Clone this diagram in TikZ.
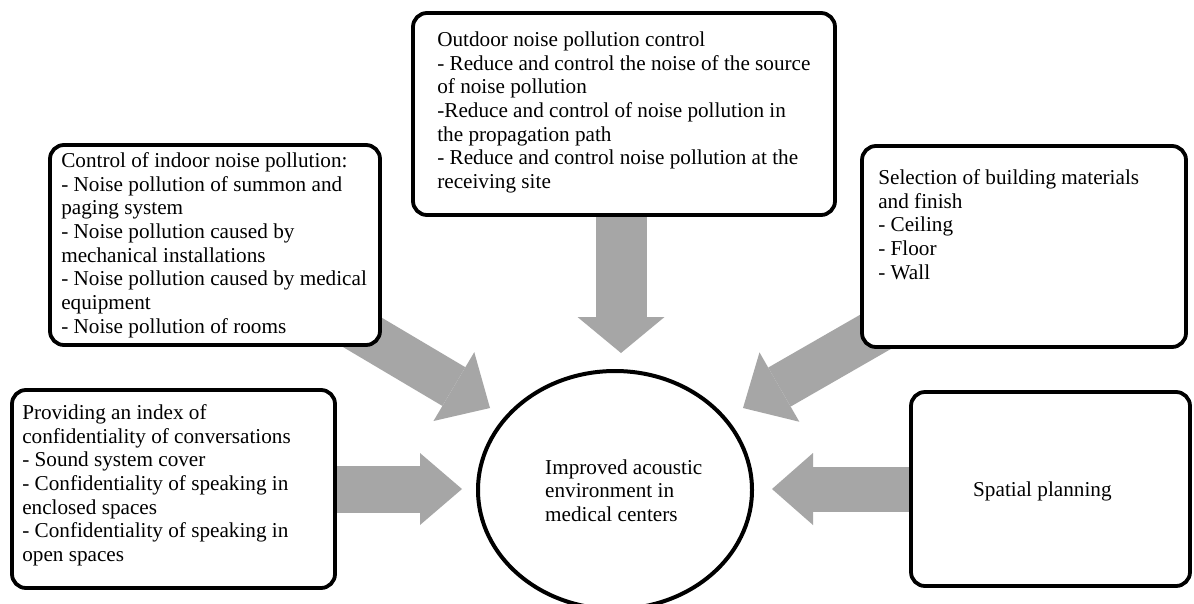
\documentclass[tikz,border=0pt]{standalone}
\usepackage{fontspec}
\setmainfont{Liberation Serif}
\usetikzlibrary{arrows.meta,shapes.geometric,backgrounds}
\definecolor{arrowgray}{RGB}{166,166,166}
\newcommand\firststrut{\rule{0pt}{16pt}}
\begin{document}
\begin{tikzpicture}[x=1pt,y=-1pt,
  box/.style={draw=black, line width=3.8pt, rounded corners=14pt, fill=white, inner sep=0pt, rectangle},
  hub/.style={draw=black, line width=4pt, fill=white, ellipse, inner sep=0pt},
  txt/.style={inner sep=0pt, anchor=north west, align=left, font=\fontsize{21.2}{23.7}\selectfont},
  barrow/.style n args={3}{draw=arrowgray, line width=#1, -{Triangle[width=#2,length=#3,line width=0pt,fill=arrowgray]}}
]
\useasboundingbox (0,0) rectangle (1194,603);

% boxes
\node[box, minimum width=422pt, minimum height=202pt] (out) at (624,114) {};
\node[box, minimum width=330pt, minimum height=200pt] (ind) at (215,245) {};
\node[box, minimum width=324pt, minimum height=201pt] (sel) at (1024,246.5) {};
\node[box, minimum width=323pt, minimum height=198pt] (prov) at (173.5,489) {};
\node[box, minimum width=279pt, minimum height=194pt] (spat) at (1050.5,489) {};
\node[hub, minimum width=274pt, minimum height=238pt] (hub) at (615,490) {};

% texts
\node[txt] (outt) at ([shift={(26,19)}]out.north west) {\firststrut Outdoor noise pollution control\\
- Reduce and control the noise of the source\\
of noise pollution\\
-Reduce and control of noise pollution in\\
the propagation path\\
- Reduce and control noise pollution at the\\
receiving site};

\node[txt] (indt) at ([shift={(13,8)}]ind.north west) {\firststrut Control of indoor noise pollution:\\
- Noise pollution of summon and\\
paging system\\
- Noise pollution caused by\\
mechanical installations\\
- Noise pollution caused by medical\\
equipment\\
- Noise pollution of rooms};

\node[txt] (selt) at ([shift={(18,24)}]sel.north west) {\firststrut Selection of building materials\\
and finish\\
- Ceiling\\
- Floor\\
- Wall};

\node[txt] (provt) at ([shift={(12,15)}]prov.north west) {\firststrut Providing an index of\\
confidentiality of conversations\\
- Sound system cover\\
- Confidentiality of speaking in\\
enclosed spaces\\
- Confidentiality of speaking in\\
open spaces};

\node[txt] (hubt) at ([shift={(-70,-32)}]hub.center) {\firststrut Improved acoustic\\
environment in\\
medical centers};

\node[txt, anchor=base west] (spatt) at ([shift={(-77.5,7)}]spat.center) {Spatial planning};

% arrow tips
\coordinate (tD) at (621,353);
\coordinate (t1) at (490,408);
\coordinate (t2) at (743,408);
\coordinate (tL) at (462,489);
\coordinate (tR) at (772,489);

\begin{scope}[on background layer]
\fill[white] (0,0) rectangle (1194,603);
\draw[barrow={51pt}{87pt}{36pt}] (out.center -| tD) -- (tD);
\draw[barrow={45pt}{80pt}{42pt}] (ind.center) -- (t1);
\draw[barrow={45pt}{80pt}{42pt}] (sel.center) -- (t2);
\draw[barrow={47pt}{72pt}{42pt}] (prov.center) -- (tL);
\draw[barrow={45pt}{72pt}{41pt}] (spat.center) -- (tR);
\end{scope}
\end{tikzpicture}
\end{document}
